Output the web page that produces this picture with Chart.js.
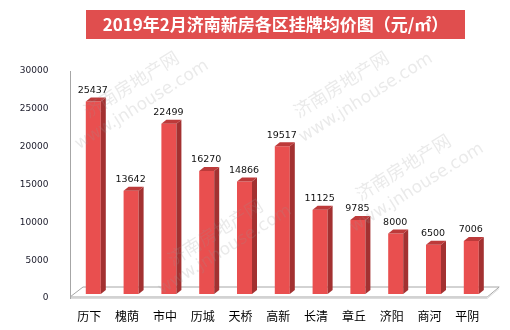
<!DOCTYPE html>
<html>
<head>
<meta charset="utf-8">
<script src="https://cdn.jsdelivr.net/npm/chart.js@4/dist/chart.umd.min.js"></script>
<style>
  html, body { margin: 0; padding: 0; background: #ffffff; }
  #wrap { width: 510px; height: 330px; }
</style>
</head>
<body>
<div id="wrap"><canvas id="c" width="510" height="330"></canvas></div>
<script>
// 2019年2月 济南各区新房挂牌均价（元/㎡）
const titleText = '2019年2月济南新房各区挂牌均价图（元/㎡）';
const categories = ['历下', '槐荫', '市中', '历城', '天桥', '高新', '长清', '章丘', '济阳', '商河', '平阴'];
const prices = [25437, 13642, 22499, 16270, 14866, 19517, 11125, 9785, 8000, 6500, 7006];
const yTicks = [0, 5000, 10000, 15000, 20000, 25000, 30000];

// site watermark lines
const markCn = '济南房地产网';
const markEn = 'www.jnhouse.com';

const FRONT = '#E94F4F';
const SIDE = '#A33131';
const TOP = '#BD3A3A';

// depth of the bar prisms and how far the bar row sits behind the axis plane
const BAR_DX = 5, BAR_DY = -4;
const ROW_DX = 4, ROW_DY = -4;

const pseudo3d = {
  id: 'pseudo3d',
  beforeDatasetsDraw(chart) {
    const { ctx, chartArea: a } = chart;
    const L = a.left - 0.4, R = a.right + 1, B = a.bottom - 1;
    ctx.save();
    // floor slab
    ctx.beginPath();
    ctx.moveTo(L, B);
    ctx.lineTo(R, B);
    ctx.lineTo(R + 12, B - 10);
    ctx.lineTo(L + 13, B - 10);
    ctx.closePath();
    ctx.fillStyle = '#ffffff';
    ctx.fill();
    ctx.strokeStyle = '#A6A6A6';
    ctx.lineWidth = 1;
    ctx.stroke();
    ctx.beginPath();
    ctx.moveTo(L + 1, B + 1.5);
    ctx.lineTo(R, B + 1.5);
    ctx.lineTo(R + 12, B - 8.5);
    ctx.strokeStyle = '#DCDCDC';
    ctx.stroke();
    ctx.restore();
    ctx.save();
    ctx.translate(ROW_DX, ROW_DY);
  },
  afterDatasetsDraw(chart) {
    const { ctx } = chart;
    const meta = chart.getDatasetMeta(0);
    meta.data.forEach((bar, i) => {
      const { x, y, base, width } = bar.getProps(['x', 'y', 'base', 'width'], true);
      const x0 = x - width / 2, x1 = x + width / 2;
      // right side face
      ctx.beginPath();
      ctx.moveTo(x1, y);
      ctx.lineTo(x1 + BAR_DX, y + BAR_DY);
      ctx.lineTo(x1 + BAR_DX, base + BAR_DY);
      ctx.lineTo(x1, base);
      ctx.closePath();
      ctx.fillStyle = SIDE;
      ctx.fill();
      // top face
      ctx.beginPath();
      ctx.moveTo(x0, y);
      ctx.lineTo(x0 + BAR_DX, y + BAR_DY);
      ctx.lineTo(x1 + BAR_DX, y + BAR_DY);
      ctx.lineTo(x1, y);
      ctx.closePath();
      ctx.fillStyle = TOP;
      ctx.fill();
      // value label
      ctx.fillStyle = '#111111';
      ctx.font = '9.5px "DejaVu Sans"';
      ctx.textAlign = 'center';
      ctx.textBaseline = 'alphabetic';
      ctx.fillText(String(prices[i]), x - 0.5, y - 8.5);
    });
    ctx.restore();
  },
  afterDraw(chart) {
    const { ctx } = chart;
    // title banner
    ctx.save();
    ctx.fillStyle = '#E04E4E';
    ctx.fillRect(86, 10, 379, 29);
    ctx.fillStyle = '#ffffff';
    ctx.font = 'bold 17px "Noto Sans CJK SC"';
    ctx.textAlign = 'center';
    ctx.textBaseline = 'middle';
    ctx.fillText(titleText, 275.5, 25);
    ctx.restore();

    // diagonal watermark
    const marks = [
      { cn: [131, 84], en: [142, 105] },
      { cn: [341, 84], en: [366, 98] },
      { cn: [403, 167], en: [417, 188] },
      { cn: [215, 232], en: [225, 250] }
    ];
    ctx.save();
    ctx.fillStyle = 'rgba(150,150,150,0.2)';
    ctx.textAlign = 'center';
    ctx.textBaseline = 'middle';
    const ang = -32 * Math.PI / 180;
    marks.forEach(m => {
      ctx.save();
      ctx.translate(m.cn[0], m.cn[1]);
      ctx.rotate(ang);
      ctx.font = '18px "Noto Sans CJK SC"';
      ctx.fillText(markCn, 0, 0);
      ctx.restore();
      ctx.save();
      ctx.translate(m.en[0], m.en[1]);
      ctx.rotate(ang);
      ctx.font = '17px "DejaVu Sans"';
      ctx.fillText(markEn, 0, 0);
      ctx.restore();
    });
    ctx.restore();
  }
};

new Chart(document.getElementById('c'), {
  type: 'bar',
  data: {
    labels: categories,
    datasets: [{
      data: prices,
      backgroundColor: FRONT,
      borderWidth: 0,
      barPercentage: 0.397,
      categoryPercentage: 1.0
    }]
  },
  options: {
    responsive: false,
    devicePixelRatio: 1,
    animation: false,
    layout: { padding: { top: 71, right: 23.8, left: 0, bottom: 0 } },
    plugins: {
      legend: { display: false },
      tooltip: { enabled: false },
      title: { display: false }
    },
    scales: {
      x: {
        grid: { display: false },
        border: { display: false },
        ticks: {
          font: { family: '"Noto Sans CJK SC"', size: 12 },
          color: '#000000',
          padding: 3,
          maxRotation: 0
        },
        afterFit(scale) { scale.height = 32; }
      },
      y: {
        min: 0,
        max: 30000,
        grid: { display: false },
        border: { display: true, color: '#A6A6A6', width: 1 },
        afterBuildTicks(scale) { scale.ticks = yTicks.map(v => ({ value: v })); },
        ticks: {
          font: { family: '"DejaVu Sans"', size: 9 },
          color: '#1a1a2a',
          padding: 14,
          callback: v => String(v)
        },
        afterFit(scale) { scale.width = 70.4; }
      }
    }
  },
  plugins: [pseudo3d]
});
</script>
</body>
</html>
